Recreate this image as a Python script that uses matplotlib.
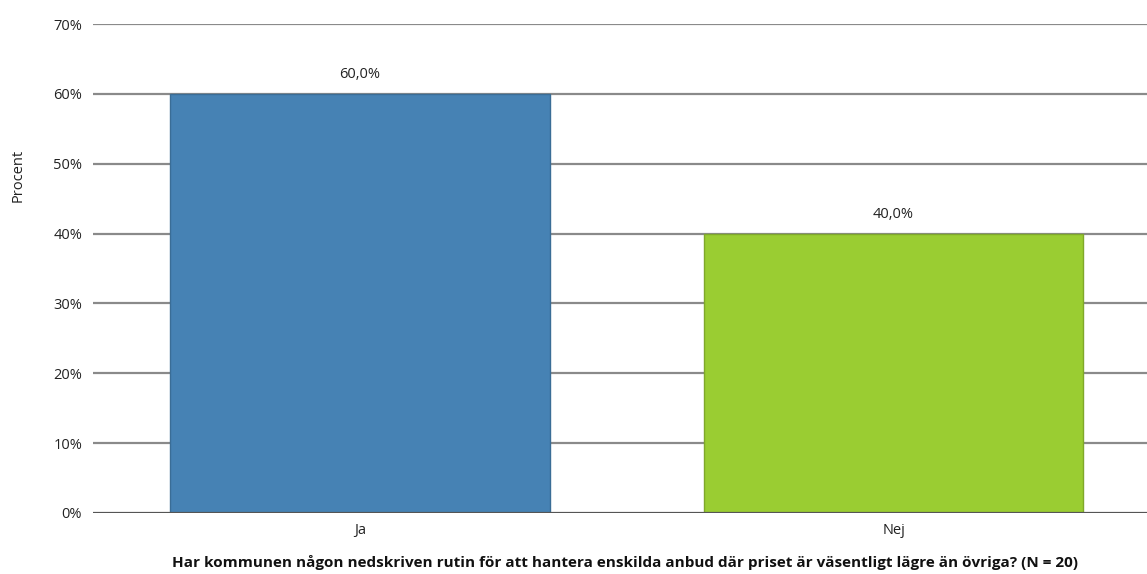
import matplotlib.pyplot as plt
import numpy as np

# data
categories = ['Ja', 'Nej']
values = [60.0, 40.0]
colors = ['#4682B4', '#9ACD32']
edges = ['#3a6d96', '#7fa82a']
yticks = [0, 10, 20, 30, 40, 50, 60, 70]

plt.rcParams['font.family'] = ['Open Sans', 'DejaVu Sans']

fig = plt.figure(figsize=(11.47, 5.74), dpi=100)
ax = fig.add_axes([93.25 / 1147, 1 - 513 / 574, 1067 / 1147, (513 - 24) / 574])

x = np.arange(len(categories))
ax.bar(x, values, width=0.712, color=colors, edgecolor=edges, linewidth=1, zorder=3)

for xi, v in zip(x, values):
    ax.text(xi, v + 1.7, f'{v:.1f}%'.replace('.', ','), ha='center', va='bottom',
            fontsize=10.5, color='#222222')

ax.set_xlim(-0.5, 1.5)
ax.set_ylim(0, 70)
ax.set_yticks(yticks)
ax.set_yticklabels([f'{t}%' for t in yticks], fontsize=10.5, color='#222222')
ax.set_xticks(x)
ax.set_xticklabels(categories, fontsize=10.5, color='#222222')
ax.tick_params(axis='both', length=0, pad=8)
ax.tick_params(axis='x', pad=7)

# gridlines
for t in yticks[1:]:
    ax.axhline(t, color='#8a8a8a', linewidth=1.6, zorder=1)
ax.axhline(0, color='#555555', linewidth=1.6, zorder=4)

for s in ax.spines.values():
    s.set_visible(False)

ax.set_ylabel('Procent', fontsize=10.5, color='#222222')
ax.yaxis.set_label_coords(-68 / 1067, (513 - 175) / 489)
ax.set_xlabel('Har kommunen någon nedskriven rutin för att hantera enskilda anbud där priset är väsentligt lägre än övriga? (N = 20)',
              fontsize=11, fontweight='bold', color='#111111')
ax.xaxis.set_label_coords(532 / 1067, -(562 - 513) / 489)
ax.xaxis.label.set_va('center')

fig.savefig('out.png', dpi=100)
